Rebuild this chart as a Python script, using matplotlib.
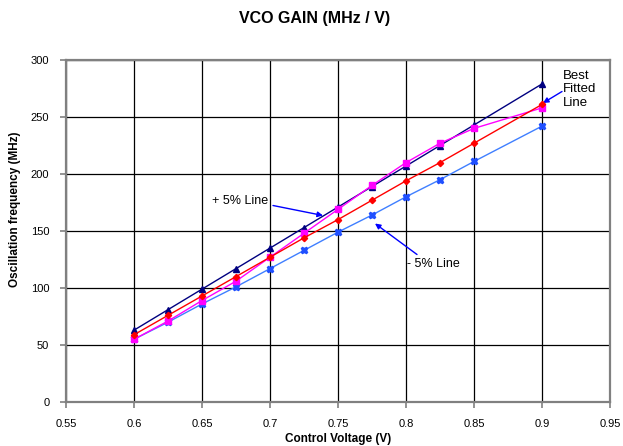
import matplotlib
matplotlib.use("Agg")
import matplotlib.pyplot as plt
from matplotlib import font_manager

names = {f.name for f in font_manager.fontManager.ttflist}
narrow = "Liberation Sans Narrow" if "Liberation Sans Narrow" in names else "Liberation Sans"
plt.rcParams['font.family'] = [narrow, 'DejaVu Sans']

voltage = [0.6, 0.625, 0.65, 0.675, 0.7, 0.725, 0.75, 0.775, 0.8, 0.825, 0.85, 0.9]
plus5 = [63, 81, 99, 117, 135, 153, 171, 189, 207, 225, 243, 279]
best_fit = [59, 76, 93, 110, 127, 144, 160, 177, 194, 210, 227, 261]
measured = [55, 71, 89, 106, 127, 148, 169, 190, 210, 227, 240, 258]
minus5 = [55, 70, 86, 101, 117, 133, 149, 164, 180, 195, 211, 242]

xticks = [0.55, 0.6, 0.65, 0.7, 0.75, 0.8, 0.85, 0.9, 0.95]
xtick_labels = ["0.55", "0.6", "0.65", "0.7", "0.75", "0.8", "0.85", "0.9", "0.95"]
yticks = [0, 50, 100, 150, 200, 250, 300]

W, H = 623, 446
fig = plt.figure(figsize=(W / 100, H / 100), dpi=100)
L, R, T, B = 66, 610, 60, 402
ax = fig.add_axes([L / W, 1 - B / H, (R - L) / W, (B - T) / H])

ax.plot(voltage, plus5, color='#000080', lw=1, marker='^', ms=5, zorder=3)
ax.plot(voltage, minus5, color='#3f7fff', lw=1, marker='X', ms=5,
        mfc='#1f4fff', mec='#1f4fff', zorder=3)
ax.plot(voltage, measured, color='#ff00ff', lw=1, marker='s', ms=4.5, zorder=4)
ax.plot(voltage, best_fit, color='#ff0000', lw=1, marker='D', ms=3.2, zorder=5)

ax.set_xlim(0.55, 0.95)
ax.set_ylim(0, 300)
ax.set_xticks(xticks)
ax.set_xticklabels(xtick_labels)
ax.set_yticks(yticks)
ax.grid(True, color='#000000', lw=0.9)
ax.set_axisbelow(True)
for s in ax.spines.values():
    s.set_color('#808080')
    s.set_linewidth(1.6)
ax.tick_params(axis='both', direction='out', length=4, width=1.2, color='#808080',
               labelsize=8, labelcolor='black', pad=8)

fig.text(315 / W, 1 - 18 / H, "VCO GAIN (MHz / V)", ha='center', va='center',
         fontsize=11.5, fontweight='bold', family=['Liberation Sans', 'DejaVu Sans'])
fig.text(338 / W, 1 - 439 / H, "Control Voltage (V)", ha='center', va='center',
         fontsize=8.5, fontweight='bold')
fig.text(15 / W, 1 - 209 / H, "Oscillation frequency (MHz)", ha='center', va='center',
         rotation=90, fontsize=8.5, fontweight='bold')

def px(x, y):
    return ((x - L) / (R - L), (B - y) / (B - T))

arrow = dict(arrowstyle='-|>', color='#0000ff', lw=1, mutation_scale=8, shrinkA=0, shrinkB=0)
ax.annotate("", xy=px(323, 215.5), xytext=px(273, 205.5), xycoords='axes fraction',
            textcoords='axes fraction', arrowprops=arrow)
ax.text(*px(212, 201), "+ 5% Line", transform=ax.transAxes, ha='left', va='center', fontsize=9)
ax.annotate("", xy=px(375, 223.5), xytext=px(417, 254.5), xycoords='axes fraction',
            textcoords='axes fraction', arrowprops=arrow)
ax.text(*px(407, 264), "- 5% Line", transform=ax.transAxes, ha='left', va='center', fontsize=9)
ax.annotate("", xy=px(543, 103), xytext=px(562, 91.5), xycoords='axes fraction',
            textcoords='axes fraction', arrowprops=arrow, annotation_clip=False)
ax.text(*px(563, 89.5), "Best\nFitted\nLine", transform=ax.transAxes, ha='left', va='center',
        fontsize=9.5, linespacing=1.15, clip_on=False)

fig.savefig("out.png", dpi=100)
